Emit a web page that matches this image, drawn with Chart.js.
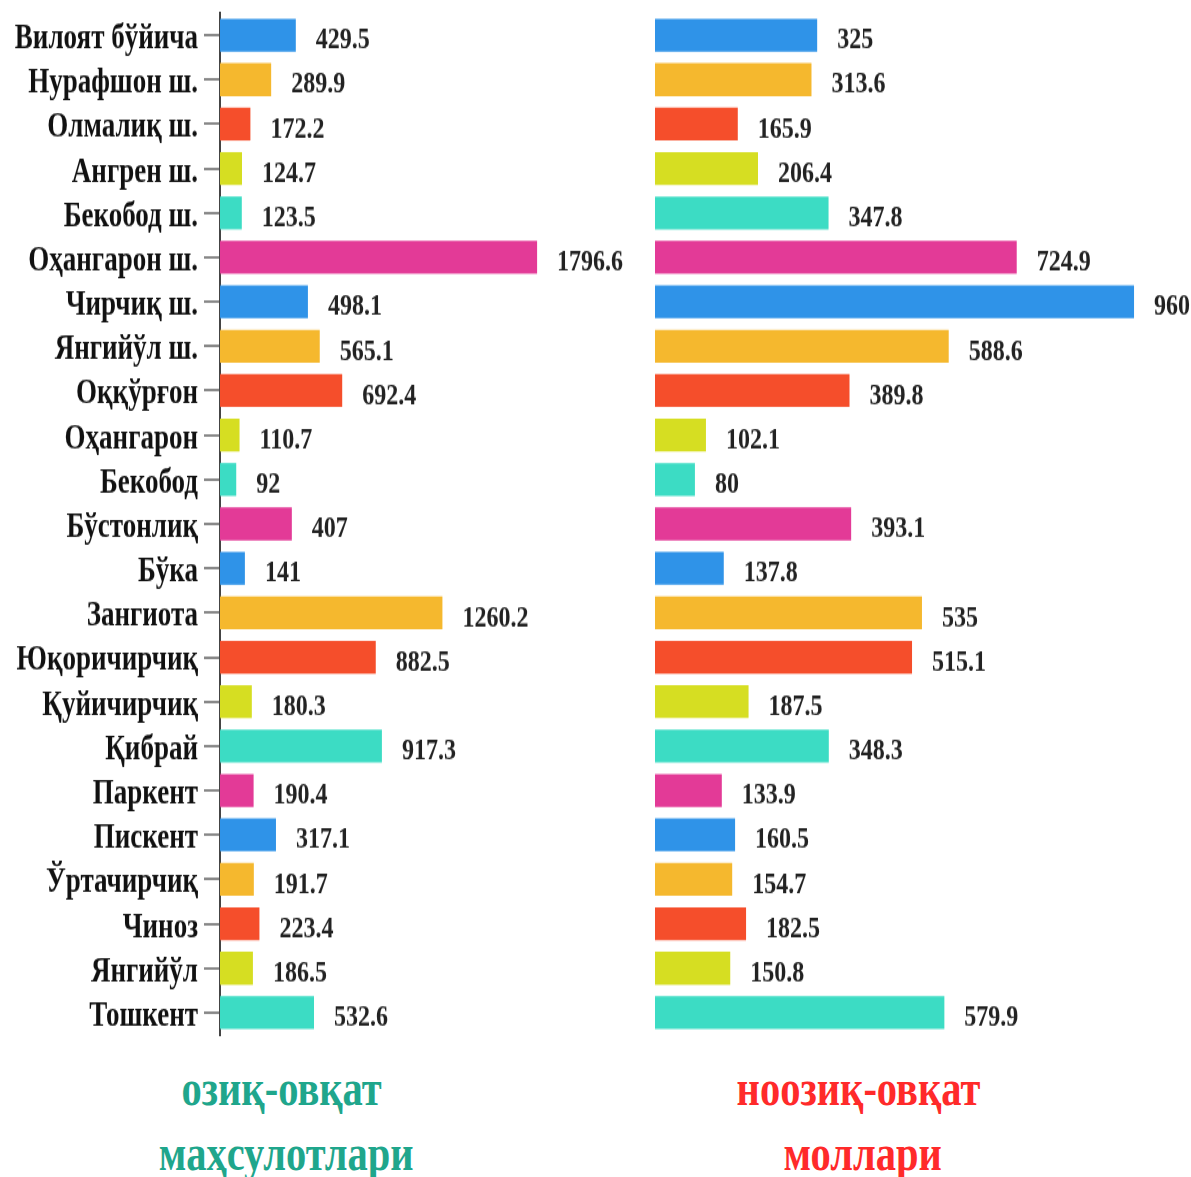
<!DOCTYPE html>
<html>
<head>
<meta charset="utf-8">
<script src="https://cdn.jsdelivr.net/npm/chart.js@4.4.1/dist/chart.umd.min.js"></script>
<style>
  html, body { margin: 0; padding: 0; background: #fff; }
  #wrap { position: relative; width: 1191px; height: 1177px; overflow: hidden; background: #fff; }
  .cv { position: absolute; top: 0; transform-origin: 0 0; transform: scaleY(1.3); }
  #c1 { left: 0; }
  #c2 { left: 640px; }
  .ttl { position: absolute; font-family: "Liberation Serif", "Times New Roman", serif; font-weight: bold;
         font-size: 50px; line-height: 1; white-space: nowrap; transform-origin: center center; }
  .food { color: #1fa68c; }
  .nonfood { color: #ff2a2a; }
</style>
</head>
<body>
<div id="wrap">
  <canvas id="c1" class="cv" width="640" height="808"></canvas>
  <canvas id="c2" class="cv" width="551" height="808"></canvas>
  <div class="ttl food" id="t1"></div>
  <div class="ttl food" id="t2"></div>
  <div class="ttl nonfood" id="t3"></div>
  <div class="ttl nonfood" id="t4"></div>
</div>
<script>
const categories = ["Вилоят бўйича","Нурафшон ш.","Олмалиқ ш.","Ангрен ш.","Бекобод ш.","Оҳангарон ш.","Чирчиқ ш.","Янгийўл ш.","Оққўрғон","Оҳангарон","Бекобод","Бўстонлиқ","Бўка","Зангиота","Юқоричирчиқ","Қуйичирчиқ","Қибрай","Паркент","Пискент","Ўртачирчиқ","Чиноз","Янгийўл","Тошкент"];
const foodValues = [429.5,289.9,172.2,124.7,123.5,1796.6,498.1,565.1,692.4,110.7,92,407,141,1260.2,882.5,180.3,917.3,190.4,317.1,191.7,223.4,186.5,532.6];
const nonFoodValues = [325,313.6,165.9,206.4,347.8,724.9,960,588.6,389.8,102.1,80,393.1,137.8,535,515.1,187.5,348.3,133.9,160.5,154.7,182.5,150.8,579.9];
const titleFood = ["озиқ-овқат","маҳсулотлари"];
const titleNonFood = ["ноозиқ-овқат","моллари"];

const palette = ["#2f93e8","#f5b82e","#f54e2b","#d6de22","#3cdcc4","#e33a97"];
const barColors = categories.map((_, i) => palette[i % palette.length]);
const FONT = '"Liberation Serif", "Times New Roman", serif';

const valueLabels = {
  id: 'valueLabels',
  afterDatasetsDraw(chart) {
    const ctx = chart.ctx;
    const meta = chart.getDatasetMeta(0);
    const vals = chart.data.datasets[0].data;
    ctx.save();
    ctx.font = 'bold 24px ' + FONT;
    ctx.fillStyle = '#222';
    ctx.textAlign = 'left';
    ctx.textBaseline = 'middle';
    meta.data.forEach((bar, i) => {
      ctx.fillText(String(vals[i]), bar.x + 20, bar.y + 4);
    });
    ctx.restore();
  }
};

function makeChart(id, values, maxV, showY, padding) {
  return new Chart(document.getElementById(id), {
    type: 'bar',
    data: {
      labels: categories,
      datasets: [{
        data: values,
        backgroundColor: barColors,
        borderWidth: 0,
        categoryPercentage: 1,
        barPercentage: 0.74
      }]
    },
    options: {
      indexAxis: 'y',
      responsive: false,
      animation: false,
      layout: { padding: padding },
      plugins: { legend: { display: false }, tooltip: { enabled: false } },
      scales: {
        x: { display: false, min: 0, max: maxV },
        y: {
          display: showY,
          afterFit(scale) {
            if (showY) scale.width = 220;
            scale.paddingTop = 0;
            scale.paddingBottom = 0;
          },
          grid: { display: true, drawOnChartArea: false, drawTicks: true, tickLength: 16, offset: false, color: '#888', lineWidth: 2 },
          border: { display: true, color: '#444', width: 2 },
          ticks: { color: '#111', padding: 6, labelOffset: 3, autoSkip: false, font: { family: FONT, weight: 'bold', size: 27 } }
        }
      }
    },
    plugins: [valueLabels]
  });
}

makeChart('c1', foodValues, 2000, true, { top: 10, bottom: 12, left: 0, right: 67 });
makeChart('c2', nonFoodValues, 1000, false, { top: 10, bottom: 12, left: 15, right: 37 });

function placeTitle(id, text, cx, baseline) {
  const el = document.getElementById(id);
  el.textContent = text;
  el.style.left = '0px';
  el.style.top = '0px';
  const w = el.offsetWidth;
  el.style.left = (cx - w / 2) + 'px';
  el.style.top = (baseline - 40) + 'px';
  el.style.transform = 'scaleX(0.81)';
}
placeTitle('t1', titleFood[0], 281, 1103);
placeTitle('t2', titleFood[1], 286, 1168);
placeTitle('t3', titleNonFood[0], 858, 1103);
placeTitle('t4', titleNonFood[1], 862, 1168);
</script>
</body>
</html>
